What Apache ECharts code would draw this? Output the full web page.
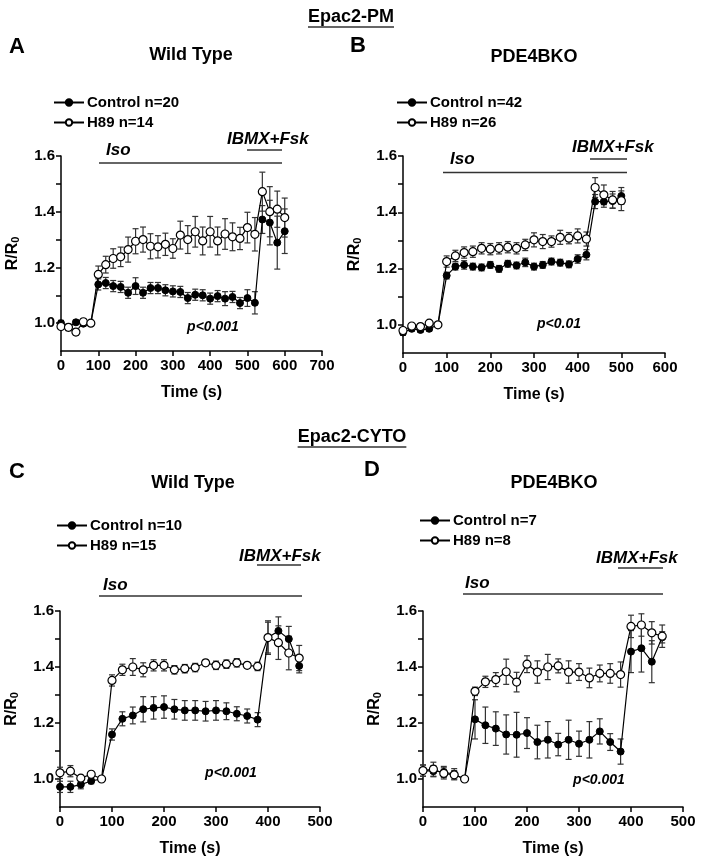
<!DOCTYPE html>
<html><head><meta charset="utf-8">
<script src="https://cdn.jsdelivr.net/npm/echarts@6/dist/echarts.min.js"></script>
<style>html,body{margin:0;padding:0;background:#fff}#c{width:701px;height:861px}</style>
</head><body><div id="c"></div>
<script>
// ---- Panel A (Epac2-PM, Wild Type) ----
const timeA = [0,20,40,60,80,100,120,140,160,180,200,220,240,260,280,300,320,340,360,380,400,420,440,460,480,500,520,540,560,580,600];
const ctrlA = [1.00,0.985,1.003,0.998,1.00,1.139,1.144,1.133,1.130,1.109,1.133,1.109,1.126,1.126,1.118,1.114,1.112,1.090,1.102,1.100,1.088,1.097,1.088,1.094,1.072,1.090,1.073,1.372,1.361,1.289,1.330];
const ctrlAErr = [0.01,0.01,0.008,0.008,0.005,0.02,0.02,0.02,0.02,0.02,0.03,0.02,0.02,0.02,0.02,0.02,0.02,0.02,0.02,0.02,0.02,0.02,0.025,0.02,0.02,0.03,0.04,0.05,0.08,0.095,0.08];
const h89A = [0.988,0.985,0.968,1.005,1.00,1.175,1.21,1.232,1.238,1.264,1.294,1.30,1.276,1.274,1.283,1.268,1.316,1.30,1.328,1.295,1.328,1.295,1.32,1.31,1.304,1.343,1.319,1.472,1.40,1.409,1.379];
const h89AErr = [0.01,0.012,0.012,0.01,0.005,0.03,0.03,0.035,0.035,0.045,0.045,0.045,0.045,0.04,0.04,0.035,0.05,0.05,0.055,0.05,0.055,0.05,0.055,0.05,0.04,0.055,0.06,0.07,0.09,0.065,0.07];
// ---- Panel B (Epac2-PM, PDE4BKO) ----
const timeB = [0,20,40,60,80,100,120,140,160,180,200,220,240,260,280,300,320,340,360,380,400,420,440,460,480,500];
const ctrlB = [0.973,0.986,0.982,0.986,1.00,1.175,1.207,1.213,1.207,1.204,1.213,1.199,1.217,1.211,1.222,1.207,1.213,1.225,1.221,1.215,1.234,1.249,1.438,1.438,1.44,1.458];
const ctrlBErr = [0.01,0.008,0.008,0.008,0.005,0.012,0.012,0.015,0.012,0.012,0.012,0.012,0.012,0.012,0.015,0.012,0.012,0.012,0.012,0.012,0.015,0.018,0.025,0.02,0.025,0.03];
const h89B = [0.98,0.996,0.994,1.006,1.00,1.225,1.245,1.257,1.26,1.272,1.269,1.272,1.276,1.272,1.284,1.302,1.296,1.296,1.311,1.308,1.316,1.305,1.488,1.462,1.444,1.441];
const h89BErr = [0.01,0.008,0.008,0.008,0.005,0.02,0.02,0.02,0.02,0.02,0.02,0.02,0.02,0.02,0.02,0.025,0.025,0.02,0.025,0.02,0.025,0.025,0.035,0.035,0.03,0.035];
// ---- Panel C (Epac2-CYTO, Wild Type) ----
const timeC = [0,20,40,60,80,100,120,140,160,180,200,220,240,260,280,300,320,340,360,380,400,420,440,460];
const ctrlC = [0.972,0.972,0.98,0.993,1.00,1.159,1.215,1.227,1.249,1.254,1.257,1.249,1.245,1.245,1.242,1.245,1.242,1.233,1.225,1.212,1.505,1.529,1.50,1.404];
const ctrlCErr = [0.02,0.02,0.015,0.01,0.005,0.02,0.025,0.03,0.045,0.04,0.04,0.035,0.035,0.035,0.035,0.035,0.03,0.025,0.025,0.025,0.055,0.05,0.045,0.025];
const h89C = [1.022,1.028,1.003,1.017,1.00,1.352,1.39,1.40,1.39,1.406,1.406,1.39,1.394,1.398,1.415,1.406,1.41,1.415,1.406,1.402,1.505,1.487,1.45,1.432];
const h89CErr = [0.02,0.02,0.01,0.01,0.005,0.02,0.02,0.03,0.025,0.02,0.02,0.015,0.015,0.015,0.01,0.015,0.015,0.015,0.01,0.015,0.06,0.06,0.06,0.045];
// ---- Panel D (Epac2-CYTO, PDE4BKO) ----
const timeD = [0,20,40,60,80,100,120,140,160,180,200,220,240,260,280,300,320,340,360,380,400,420,440,460];
const ctrlD = [1.03,1.028,1.025,1.017,1.00,1.213,1.192,1.18,1.159,1.158,1.164,1.132,1.14,1.123,1.14,1.126,1.14,1.17,1.132,1.098,1.455,1.467,1.419,1.506];
const ctrlDErr = [0.02,0.02,0.02,0.02,0.005,0.07,0.065,0.06,0.07,0.08,0.055,0.06,0.065,0.04,0.07,0.045,0.065,0.045,0.03,0.045,0.075,0.085,0.075,0.02];
const h89D = [1.03,1.035,1.02,1.015,1.00,1.313,1.347,1.355,1.383,1.346,1.41,1.382,1.40,1.404,1.382,1.382,1.361,1.377,1.377,1.373,1.545,1.55,1.522,1.51];
const h89DErr = [0.02,0.025,0.02,0.015,0.005,0.015,0.02,0.025,0.045,0.035,0.03,0.04,0.045,0.025,0.04,0.03,0.035,0.03,0.035,0.045,0.04,0.04,0.04,0.04];

const seriesNames = [['Control n=20','H89 n=14'],['Control n=42','H89 n=26'],['Control n=10','H89 n=15'],['Control n=7','H89 n=8']];
const xMaxes = [700, 600, 500, 500];
const yTickValues = [1.0, 1.1, 1.2, 1.3, 1.4, 1.5, 1.6];
const yLabelValues = [1.0, 1.2, 1.4, 1.6];
const pTexts = ['p<0.001','p<0.01','p<0.001','p<0.001'];

const FONT = 'Liberation Sans, Arial, sans-serif';
const panels = [
  {t:timeA, c:ctrlA, ce:ctrlAErr, h:h89A, he:h89AErr, grid:{left:61, top:156, width:261, height:195}},
  {t:timeB, c:ctrlB, ce:ctrlBErr, h:h89B, he:h89BErr, grid:{left:403, top:156, width:262, height:197}},
  {t:timeC, c:ctrlC, ce:ctrlCErr, h:h89C, he:h89CErr, grid:{left:60, top:611, width:260, height:196}},
  {t:timeD, c:ctrlD, ce:ctrlDErr, h:h89D, he:h89DErr, grid:{left:423, top:611, width:260, height:196}}
];

function errRender(params, api) {
  const x = api.value(0), lo = api.value(1), hi = api.value(2);
  const a = api.coord([x, lo]), b = api.coord([x, hi]);
  const hw = 3;
  const st = {stroke:'#333', lineWidth:1.2, fill:null};
  return {type:'group', children:[
    {type:'line', shape:{x1:a[0],y1:a[1],x2:b[0],y2:b[1]}, style:st},
    {type:'line', shape:{x1:b[0]-hw,y1:b[1],x2:b[0]+hw,y2:b[1]}, style:st},
    {type:'line', shape:{x1:a[0]-hw,y1:a[1],x2:a[0]+hw,y2:a[1]}, style:st}
  ]};
}

const grids = [], xAxes = [], yAxes = [], series = [], legends = [];
const legendPos = [{left:48, top:90}, {left:391, top:90}, {left:51, top:513}, {left:414, top:508}];
panels.forEach((p, i) => {
  grids.push(Object.assign({}, p.grid));
  xAxes.push({type:'value', gridIndex:i, min:0, max:xMaxes[i], interval:100,
    axisLine:{lineStyle:{color:'#000', width:1.5}}, axisTick:{length:5, lineStyle:{color:'#000', width:1.5}},
    splitLine:{show:false},
    axisLabel:{color:'#000', fontSize:15, fontWeight:'bold', fontFamily:FONT, margin:7},
    name:'Time (s)', nameLocation:'middle', nameGap:34,
    nameTextStyle:{color:'#000', fontSize:16, fontWeight:'bold', fontFamily:FONT}});
  yAxes.push({type:'value', gridIndex:i, min:0.9, max:1.6, interval:0.1,
    axisLine:{show:true, lineStyle:{color:'#000', width:1.5}},
    axisTick:{show:true, length:5, customValues:yTickValues, lineStyle:{color:'#000', width:1.5}},
    splitLine:{show:false},
    axisLabel:{color:'#000', fontSize:15, fontWeight:'bold', fontFamily:FONT, margin:6, customValues:yLabelValues,
      formatter: v => Number(v).toFixed(1)},
    name:'{a|R/R}{b|0}', nameLocation:'middle', nameGap:40, nameRotate:90,
    nameTextStyle:{rich:{a:{color:'#000', fontSize:16, fontWeight:'bold', fontFamily:FONT},
      b:{color:'#000', fontSize:11, fontWeight:'bold', fontFamily:FONT, verticalAlign:'bottom', padding:[6,0,0,0]}}}});
  const mk = (vals, errs) => p.t.map((t, k) => [t, vals[k] - errs[k], vals[k] + errs[k]]);
  series.push({type:'custom', xAxisIndex:i, yAxisIndex:i, renderItem:errRender, data:mk(p.c, p.ce), encode:{x:0, y:[1,2]}, z:1, silent:true});
  series.push({type:'custom', xAxisIndex:i, yAxisIndex:i, renderItem:errRender, data:mk(p.h, p.he), encode:{x:0, y:[1,2]}, z:1, silent:true});
  series.push({type:'line', name:seriesNames[i][0], xAxisIndex:i, yAxisIndex:i, data:p.t.map((t,k)=>[t,p.c[k]]),
    symbol:'circle', symbolSize:7, showAllSymbol:true, z:3,
    itemStyle:{color:'#000', borderColor:'#000', borderWidth:1}, lineStyle:{color:'#000', width:1.2}});
  series.push({type:'line', name:seriesNames[i][1], xAxisIndex:i, yAxisIndex:i, data:p.t.map((t,k)=>[t,p.h[k]]),
    symbol:'circle', symbolSize:8, showAllSymbol:true, z:4,
    itemStyle:{color:'#fff', borderColor:'#000', borderWidth:1.2}, lineStyle:{color:'#000', width:1.2}});
  legends.push({orient:'vertical', left:legendPos[i].left, top:legendPos[i].top, itemWidth:30, itemHeight:8, itemGap:5,
    data:seriesNames[i], selectedMode:false,
    textStyle:{color:'#000', fontSize:15, fontWeight:'bold', fontFamily:FONT, padding:[0,0,0,-2]}});
});

// annotation layout (text and lines above the plots)
const ctx = document.createElement('canvas').getContext('2d');
function tw(txt, font) { ctx.font = font; return ctx.measureText(txt).width; }
const gfx = [];
function txt(x, y, s, size, opts) {
  opts = opts || {};
  gfx.push({type:'text', x:x, y:y, style:{text:s, fill:'#000', fontSize:size, fontWeight:'bold', fontStyle:opts.italic?'italic':'normal',
    fontFamily:FONT, align:opts.align||'left', verticalAlign:'middle'}});
}
function hline(x1, x2, y, w) {
  gfx.push({type:'line', shape:{x1:x1, y1:y, x2:x2, y2:y}, style:{stroke:'#333', lineWidth:w||1.5}});
}
function header(x, y, s) {
  txt(x, y, s, 18, {align:'center'});
  const w = tw(s, 'bold 18px Liberation Sans');
  hline(x - w/2, x + w/2, y + 10, 1.5);
}
header(351, 17, 'Epac2-PM');
header(352, 437, 'Epac2-CYTO');
txt(9, 47, 'A', 22); txt(350, 46, 'B', 22); txt(9, 472, 'C', 22); txt(364, 470, 'D', 22);
txt(191, 55, 'Wild Type', 18, {align:'center'});
txt(534, 57, 'PDE4BKO', 18, {align:'center'});
txt(193, 483, 'Wild Type', 18, {align:'center'});
txt(554, 483, 'PDE4BKO', 18, {align:'center'});
// Iso / IBMX+Fsk annotations
txt(106, 150, 'Iso', 17, {italic:true}); hline(99, 282, 163);
txt(227, 139, 'IBMX+Fsk', 17, {italic:true}); hline(247, 282, 150);
txt(450, 159, 'Iso', 17, {italic:true}); hline(443, 627, 172.5);
txt(572, 147, 'IBMX+Fsk', 17, {italic:true}); hline(590, 627, 159);
txt(103, 585, 'Iso', 17, {italic:true}); hline(99, 302, 596);
txt(239, 556, 'IBMX+Fsk', 17, {italic:true}); hline(257, 301, 565);
txt(465, 583, 'Iso', 17, {italic:true}); hline(463, 663, 594);
txt(596, 558, 'IBMX+Fsk', 17, {italic:true}); hline(618, 663, 568);
// p-values
txt(213, 327, pTexts[0], 14, {italic:true, align:'center'});
txt(559, 324, pTexts[1], 14, {italic:true, align:'center'});
txt(231, 773, pTexts[2], 14, {italic:true, align:'center'});
txt(599, 780, pTexts[3], 14, {italic:true, align:'center'});

const chart = echarts.init(document.getElementById('c'), null, {renderer:'canvas'});
chart.setOption({
  animation:false, backgroundColor:'#fff',
  grid:grids, xAxis:xAxes, yAxis:yAxes, series:series, legend:legends, graphic:gfx
});
</script></body></html>
